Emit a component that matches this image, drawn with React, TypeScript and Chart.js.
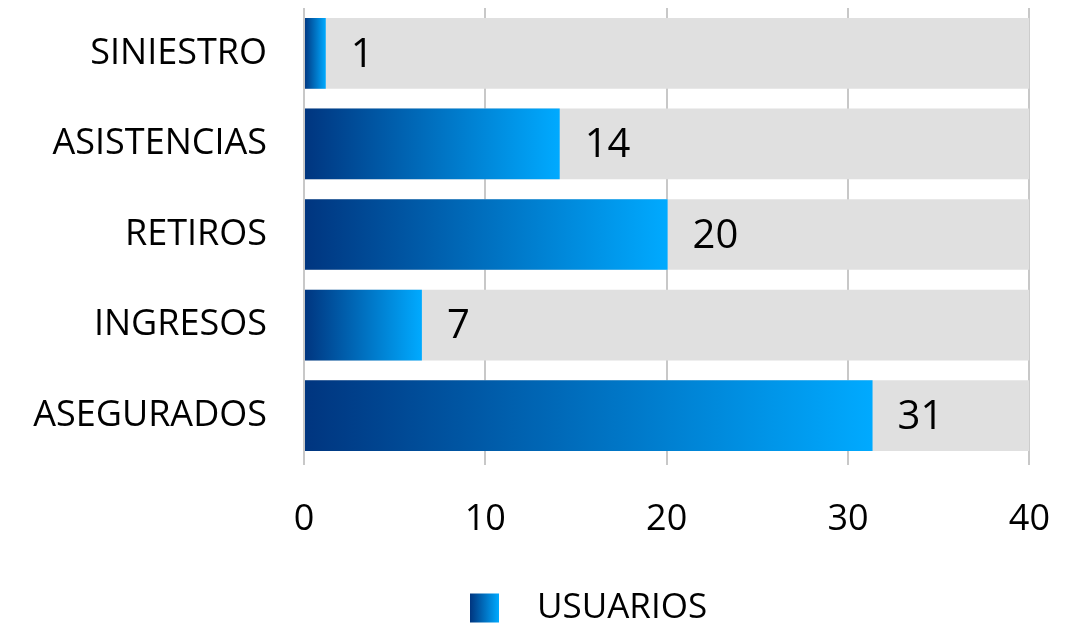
import React, { useEffect, useRef } from "react";
import { Chart, registerables } from "chart.js";

Chart.register(...registerables);

const categories = ["SINIESTRO", "ASISTENCIAS", "RETIROS", "INGRESOS", "ASEGURADOS"];
const usuarios = [1.2, 14.1, 20.05, 6.5, 31.35];
const maxValues = [40, 40, 40, 40, 40];
const xTicks = [0, 10, 20, 30, 40];
const seriesLabel = "USUARIOS";

const FONT = "'Open Sans', sans-serif";
const DARK = "#00357f";
const LIGHT = "#00aaff";
const TRACK = "#e0e0e0";
const GRID = "#c8c8c8";

const valueLabels = {
  id: "valueLabels",
  afterDatasetsDraw(chart: any) {
    const ctx = chart.ctx;
    const meta = chart.getDatasetMeta(1);
    ctx.save();
    ctx.font = `40px ${FONT}`;
    ctx.fillStyle = "#000";
    ctx.textAlign = "left";
    ctx.textBaseline = "middle";
    meta.data.forEach((el: any, i: number) => {
      ctx.fillText(String(Math.round(usuarios[i])), el.x + 25, el.y + 2);
    });
    ctx.restore();
  },
};

const bottomLegend = {
  id: "bottomLegend",
  afterDraw(chart: any) {
    const ctx = chart.ctx;
    const box = 29;
    const left = 470;
    const cy = 608;
    ctx.save();
    const g = ctx.createLinearGradient(left, 0, left + box, 0);
    g.addColorStop(0, DARK);
    g.addColorStop(1, LIGHT);
    ctx.fillStyle = g;
    ctx.fillRect(left, cy - box / 2, box, box);
    ctx.font = `35px ${FONT}`;
    ctx.fillStyle = "#000";
    ctx.textAlign = "left";
    ctx.textBaseline = "middle";
    ctx.fillText(chart.data.datasets[1].label, left + box + 38, cy);
    ctx.restore();
  },
};

export default function App() {
  const ref = useRef<HTMLCanvasElement | null>(null);

  useEffect(() => {
    document.body.style.margin = "0";
    if (!ref.current) return;
    const chart = new Chart(ref.current, {
      type: "bar",
      data: {
        labels: categories,
        datasets: [
          {
            label: "max",
            data: maxValues,
            backgroundColor: TRACK,
            grouped: false,
            order: 2,
            barPercentage: 0.78,
            categoryPercentage: 1,
          },
          {
            label: seriesLabel,
            data: usuarios,
            grouped: false,
            order: 1,
            barPercentage: 0.78,
            categoryPercentage: 1,
            backgroundColor: (c: any) => {
              const x = c.chart.scales?.x;
              if (!x || c.type !== "data") return LIGHT;
              const x0 = x.getPixelForValue(0);
              const x1 = x.getPixelForValue(c.raw);
              if (!isFinite(x0) || !isFinite(x1) || x1 - x0 < 1) return LIGHT;
              const g = c.chart.ctx.createLinearGradient(x0, 0, x1, 0);
              g.addColorStop(0, DARK);
              g.addColorStop(1, LIGHT);
              return g;
            },
          },
        ],
      },
      options: {
        indexAxis: "y",
        animation: false,
        responsive: true,
        maintainAspectRatio: false,
        layout: { padding: { top: 8, right: 50, bottom: 0, left: 0 } },
        plugins: {
          legend: { display: false },
          tooltip: { enabled: false },
        },
        scales: {
          x: {
            min: 0,
            max: 40,
            afterBuildTicks: (s: any) => {
              s.ticks = xTicks.map((v) => ({ value: v }));
            },
            afterFit: (s: any) => {
              s.height = 164;
            },
            grid: { color: GRID, lineWidth: 2, tickLength: 4 },
            border: { display: false },
            ticks: {
              color: "#000",
              font: { family: FONT, size: 36 },
              padding: 33,
            },
          },
          y: {
            afterFit: (s: any) => {
              s.width = 304;
            },
            grid: { display: false, drawTicks: true, tickLength: 37 },
            border: { display: false },
            ticks: {
              color: "#000",
              font: { family: FONT, size: 36, lineHeight: 0.4 },
              padding: 0,
            },
          },
        },
      },
      plugins: [valueLabels, bottomLegend],
    });
    return () => chart.destroy();
  }, []);

  return (
    <div style={{ width: "1083px", height: "625px", position: "relative" }}>
      <canvas ref={ref} />
    </div>
  );
}
